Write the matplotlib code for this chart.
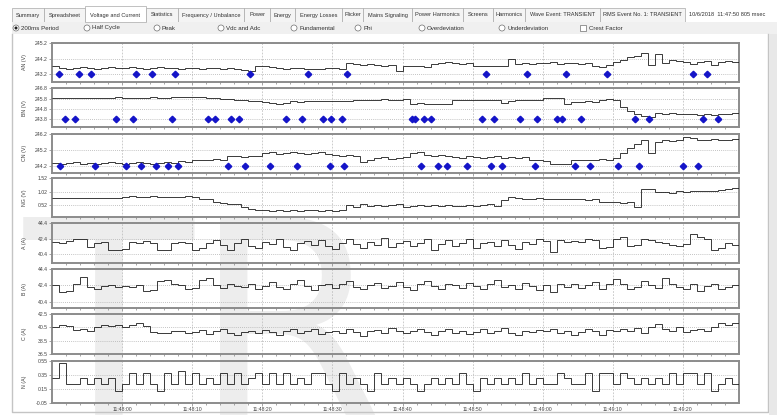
import matplotlib
matplotlib.use("Agg")
import matplotlib.pyplot as plt
import matplotlib.patches as patches
import numpy as np

W, H = 777, 415

# ---- UI texts ----
tabs = ["Summary", "Spreadsheet", "Voltage and Current", "Statistics",
        "Frequency / Unbalance", "Power", "Energy", "Energy Losses", "Flicker",
        "Mains Signaling", "Power Harmonics", "Screens", "Harmonics",
        "Wave Event: TRANSIENT", "RMS Event No. 1: TRANSIENT"]
tab_edges = [12, 44, 85, 146, 178, 244, 270, 295, 342, 363, 412, 463, 493, 525, 600, 685]
event_stamp = "10/6/2018  11:47:50 805 msec"
radio_names = ["200ms Period", "Half Cycle", "Peak", "Vdc and Adc", "Fundamental",
               "Phi", "Overdeviation", "Underdeviation"]
radio_x = [16, 87, 157, 221, 294, 358, 422, 502]
check_name = "Crest Factor"

time_ticks = [10, 20, 30, 40, 50, 60, 70, 80, 90]
time_labels = ["11:48:00", "11:48:10", "11:48:20", "11:48:30", "11:48:40",
               "11:48:50", "11:49:00", "11:49:10", "11:49:20"]

# ---- data: one value per second, starting 11:47:50 ----
an_v = [243.75, 243.6, 243.55, 243.6, 243.65, 243.6, 243.55, 243.6, 243.65, 243.6,
        243.6, 243.65, 243.6, 243.55, 243.6, 243.65, 243.6, 243.6, 243.55, 243.6,
        243.6, 243.55, 243.6, 243.6, 243.55, 243.6, 243.5, 243.45, 243.4, 243.7,
        243.7, 243.65, 243.6, 243.55, 243.6, 243.6, 243.5, 243.55, 243.5, 243.6,
        243.6, 243.55, 243.9, 243.85, 243.8, 243.85, 243.8, 243.75, 243.8, 243.4,
        243.7, 243.75, 243.7, 243.65, 243.85, 243.9, 243.95, 243.9, 243.85, 243.9,
        243.75, 243.7, 243.7, 243.75, 243.7, 244.2, 243.85, 243.9, 243.85, 243.9,
        243.9, 243.95, 243.85, 243.9, 243.9, 243.85, 243.9, 243.75, 243.65, 243.8,
        243.95, 244.1, 244.3, 244.35, 244.6, 243.8, 244.5, 243.9, 244.1, 244.05,
        244.0, 243.85, 244.0, 244.05, 243.8, 244.0, 244.05, 243.95]
bn_v = [245.85, 245.9, 245.85, 245.85, 245.9, 245.85, 245.9, 245.85, 245.9, 245.95,
        245.9, 245.85, 245.9, 245.9, 245.95, 245.9, 245.9, 245.95, 245.95, 246.0,
        246.0, 245.95, 245.9, 245.85, 245.8, 245.75, 245.7, 245.65, 245.6, 245.6,
        245.5, 245.4, 245.3, 245.35,
        245.55, 245.5, 245.55, 245.6, 245.55, 245.6, 245.55, 245.6, 245.55,
        245.7, 245.7, 245.65, 245.7, 245.75, 245.7, 245.7, 245.75,
        245.25, 245.35, 245.3, 245.3, 245.25, 245.3,
        245.65, 245.7, 245.65, 245.7, 245.65, 245.7, 245.65, 245.4, 245.6, 245.65,
        245.7, 245.65, 245.7,
        245.9, 245.85, 245.9, 245.25, 245.5, 245.5, 245.55, 245.5, 245.7, 245.75, 245.7,
        245.0, 244.6, 244.3, 244.1, 244.0,
        244.4, 244.35, 244.4, 244.3, 244.35, 244.3, 244.25, 244.3, 244.2, 244.3,
        244.35, 244.4]
cn_v = [244.4, 244.35, 244.4, 244.45, 244.35, 244.4, 244.35, 244.4, 244.45, 244.4,
        244.35, 244.4, 244.45, 244.4, 244.35, 244.4, 244.45, 244.4, 244.5, 244.45,
        244.6, 244.55, 244.6, 244.65, 244.6, 244.8, 244.85, 244.75, 244.85, 244.8,
        245.0, 245.05, 244.95, 245.0, 245.05, 245.0, 244.95, 245.0, 245.05, 244.95,
        244.9, 244.85, 244.9, 244.8, 244.45, 244.6, 244.7, 244.75, 244.65, 244.7,
        244.75, 245.0, 245.05, 244.9, 244.85, 244.9, 244.85,
        244.75, 244.7, 244.8, 244.75, 244.7, 244.75, 244.8, 244.7, 244.75, 244.7, 244.75,
        244.55, 244.6, 244.5, 244.35, 244.3, 244.35,
        244.55, 244.6, 244.55, 244.6, 244.65, 244.6, 244.7,
        245.0, 245.3, 245.6, 245.8, 245.0, 245.7, 245.8, 245.75, 245.8,
        246.0, 245.95, 245.85, 245.8, 245.9, 245.85, 245.8, 245.9]
ng_v = [0.78, 0.78, 0.77, 0.78, 0.78, 0.78, 0.77, 0.78, 0.78, 0.78,
        0.84, 0.86, 0.83, 0.84, 0.85, 0.84, 0.83, 0.84, 0.84, 0.85, 0.84,
        0.76, 0.76, 0.62, 0.6, 0.58, 0.56, 0.45, 0.38,
        0.33, 0.34, 0.32, 0.33, 0.31, 0.33, 0.32, 0.33, 0.34, 0.32, 0.33, 0.32, 0.34,
        0.52, 0.46, 0.55, 0.48, 0.53, 0.47, 0.51, 0.55, 0.46, 0.5, 0.53, 0.48,
        0.52, 0.47, 0.54, 0.49, 0.5, 0.53, 0.47, 0.51, 0.55, 0.49,
        0.7, 0.84,
        0.78, 0.76, 0.75, 0.77, 0.75, 0.74, 0.76, 0.75, 0.74, 0.75, 0.73, 0.74,
        0.64, 0.62, 0.63, 0.61, 0.62, 0.45, 1.14, 1.12,
        1.0, 1.02, 0.98, 1.03, 1.0, 1.05, 1.04, 1.06, 1.05, 1.1, 1.12, 1.15]
a_a = [42.0, 41.8, 42.1, 42.3, 42.4, 41.3, 41.9, 42.0, 40.9, 41.0,
       41.1, 42.0, 41.8, 42.1, 41.9, 41.0, 40.9, 41.9, 42.0, 41.8,
       40.9, 41.2, 41.8, 42.2, 41.6, 41.0, 41.9, 42.3, 41.5, 41.2,
       42.0, 41.7, 42.4, 41.3, 41.0, 41.9, 42.1, 41.6, 42.2, 41.4,
       41.1, 41.9, 42.3, 41.7, 41.2, 42.0, 41.6, 42.5, 41.3, 41.8,
       42.1, 41.4, 41.9, 42.3, 41.0, 41.7, 42.2, 41.5, 41.9, 42.4,
       41.2, 41.8, 42.0, 41.4, 42.2, 41.6, 41.1, 42.0, 41.7, 42.3,
       42.1, 40.7, 42.2, 42.0, 42.1, 42.0, 42.3, 42.2, 41.2, 41.3,
       42.3, 42.6, 41.5, 41.6, 42.3, 42.2, 42.0, 41.9, 41.6, 41.5,
       41.7, 43.0, 42.6, 42.3, 41.0, 41.2, 41.9, 41.6]
b_a = [42.4, 41.6, 41.7, 42.5, 43.4, 42.2, 42.0, 42.3, 42.4, 42.2,
       42.3, 42.2, 42.4, 41.7, 41.8, 42.9, 43.1, 42.5, 42.4, 42.0,
       42.1, 43.1, 43.3, 42.4, 42.1, 42.5, 42.3, 42.2, 42.6, 41.9,
       42.3, 42.8, 42.2, 42.0, 42.6, 43.0, 42.3, 41.8, 42.4, 42.6,
       42.1, 42.5, 42.9, 42.2, 41.9, 42.4, 42.7, 42.1, 42.3, 42.8,
       42.2, 41.8, 42.5, 42.9, 42.3, 42.0, 42.6, 42.4, 42.1, 42.7,
       42.3, 41.9, 42.6, 43.0, 42.2, 42.4, 42.0, 42.7, 42.3, 41.8,
       42.4, 41.6, 42.5, 42.2, 42.6, 42.1, 42.4, 42.8, 41.9, 42.5,
       43.2, 42.6, 42.0, 42.2, 42.9, 42.4, 42.1, 43.3, 42.5, 42.2,
       42.0, 42.6, 41.7, 42.3, 42.5, 41.9, 42.2, 42.4]
c_a = [40.6, 40.8, 40.7, 40.1, 40.2, 40.0, 40.6, 40.8, 40.7, 40.9,
       40.6, 40.8, 41.1, 40.7, 39.8, 39.6, 39.7, 39.9, 40.0, 39.7,
       39.8, 40.1, 39.5, 39.9, 40.2, 39.7, 39.3, 39.8, 40.0, 39.6,
       40.1, 39.8, 39.4, 39.9, 40.3, 39.7, 39.9, 40.2, 39.5, 39.8,
       40.0, 39.6, 40.3, 39.8, 39.2, 39.9, 40.1, 39.7, 40.4, 39.9,
       39.6, 40.0, 40.2, 39.8, 39.4, 39.9, 40.3, 39.7, 40.0, 39.5,
       39.8, 40.2, 39.6, 39.9, 40.4, 39.7, 39.3, 40.0, 39.8, 40.1,
       39.9, 40.3, 39.6, 40.0, 39.4, 39.8, 40.2, 40.0, 39.3, 40.1,
       39.9, 40.2, 40.0, 40.4, 39.7, 40.6, 41.0, 40.2, 39.9, 40.5,
       39.8, 40.1, 40.3, 39.9, 40.6, 41.1, 40.8, 41.1]
n_a = [0.30, 0.52, 0.22, 0.22, 0.31, 0.22, 0.31, 0.22, 0.31, 0.12,
       0.22, 0.38, 0.22, 0.38, 0.22, 0.12, 0.38, 0.22, 0.40, 0.22,
       0.38, 0.22, 0.31, 0.22, 0.38, 0.22, 0.38, 0.22, 0.31, 0.38,
       0.22, 0.38, 0.22, 0.38, 0.22, 0.31, 0.22, 0.38, 0.38, 0.22,
       0.12, 0.38, 0.22, 0.31, 0.22, 0.12, 0.38, 0.22, 0.31, 0.22,
       0.31, 0.22, 0.12, 0.22, 0.31, 0.22, 0.31, 0.22, 0.38, 0.22,
       0.12, 0.31, 0.22, 0.31, 0.22, 0.31, 0.22, 0.38, 0.22, 0.31,
       0.22, 0.22, 0.38, 0.31, 0.22, 0.22, 0.38, 0.12, 0.38, 0.38,
       0.22, 0.38, 0.31, 0.22, 0.31, 0.22, 0.31, 0.22, 0.38, 0.22,
       0.38, 0.38, 0.22, 0.38, 0.12, 0.22, 0.31, 0.22]

# event markers (seconds after 11:47:50)
an_events = [1.0, 3.8, 5.6, 12.0, 14.3, 17.5, 28.2, 36.5, 42.1, 61.9, 67.8, 73.3, 79.2, 91.5, 93.5]
bn_events = [1.9, 3.3, 9.2, 11.5, 17.1, 22.2, 23.3, 25.6, 26.7, 33.4, 35.7, 38.7, 39.8, 41.3,
             51.3, 51.8, 53.0, 54.1, 61.3, 63.1, 66.7, 69.2, 72.1, 72.7, 75.5, 83.1, 85.1, 92.9, 95.0]
cn_events = [1.2, 6.2, 10.5, 12.7, 14.8, 16.5, 18.0, 25.1, 27.5, 31.1, 34.9, 39.7, 41.6, 52.6,
             55.1, 56.3, 59.2, 62.6, 64.2, 68.9, 74.6, 76.7, 80.7, 83.7, 90.0, 92.1]

panels = [
    # label, values, events, (top px, bottom px), ylim, yticks, fmt
    ("AN (V)", an_v, an_events, (43.3, 81.7), (242.7, 245.2), [243.2, 244.2, 245.2], "{:.1f}"),
    ("BN (V)", bn_v, bn_events, (88.3, 127.3), (243.02, 246.8), [243.8, 244.8, 245.8, 246.8], "{:.1f}"),
    ("CN (V)", cn_v, cn_events, (134.0, 172.7), (243.78, 246.2), [244.2, 245.2, 246.2], "{:.1f}"),
    ("NG (V)", ng_v, None, (178.3, 216.7), (0.09, 1.52), [0.52, 1.02, 1.52], "{:.2f}"),
    ("A (A)", a_a, None, (223.3, 263.0), (39.25, 44.4), [40.4, 42.4, 44.4], "{:.1f}"),
    ("B (A)", b_a, None, (269.0, 308.0), (39.6, 44.4), [40.4, 42.4, 44.4], "{:.1f}"),
    ("C (A)", c_a, None, (314.0, 354.0), (36.5, 42.5), [36.5, 38.5, 40.5, 42.5], "{:.1f}"),
    ("N (A)", n_a, None, (360.7, 403.0), (-0.05, 0.55), [-0.05, 0.15, 0.35, 0.55], "{:.2f}"),
]

plt.rcParams['font.family'] = ['Liberation Sans', 'DejaVu Sans']

fig = plt.figure(figsize=(W / 100, H / 100), dpi=100)
fig.patch.set_facecolor("white")

# background layer in pixel coordinates
bg = fig.add_axes([0, 0, 1, 1])
bg.set_xlim(0, W)
bg.set_ylim(H, 0)
bg.axis("off")

# watermark
bg.text(24, 420, "TR", fontsize=200, color="#ededed", ha="left", va="baseline",
        family="DejaVu Sans", zorder=0, clip_on=True)

# tabs
for i, name in enumerate(tabs):
    x0, x1 = tab_edges[i], tab_edges[i + 1]
    sel = (i == 2)
    top = 6.5 if sel else 8.5
    bg.add_patch(patches.Rectangle((x0, top), x1 - x0, 22 - top,
                                   facecolor="white" if sel else "#f4f4f4",
                                   edgecolor="#a8a8a8", lw=0.5, zorder=2 if sel else 1))
    bg.text((x0 + x1) / 2, 15, name, fontsize=4.1, color="#303030",
            ha="center", va="center", zorder=3)
bg.text(689, 15, event_stamp, fontsize=4.1, color="#303030", ha="left", va="center")

# radio row
bg.add_patch(patches.Rectangle((12, 22), W - 12, 12, facecolor="#f0f0f0",
                               edgecolor="none", zorder=1))
for i, (name, x) in enumerate(zip(radio_names, radio_x)):
    bg.add_patch(patches.Circle((x, 28), 3.0, facecolor="white", edgecolor="#6f6f6f",
                                lw=0.5, zorder=2))
    if i == 0:
        bg.add_patch(patches.Circle((x, 28), 1.5, facecolor="#202020", zorder=3))
    bg.text(x + 5, 28, name, fontsize=4.4, color="#303030", ha="left", va="center", zorder=3)
bg.add_patch(patches.Rectangle((580, 24.8), 6.4, 6.4, facecolor="white",
                               edgecolor="#6f6f6f", lw=0.5, zorder=2))
bg.text(589, 28, check_name, fontsize=4.4, color="#303030", ha="left", va="center", zorder=3)

# outer frame of the chart control
bg.plot([12, 12, 768, 768], [34, 412, 412, 34], color="#c4c4c4", lw=1.0, zorder=1)
bg.add_patch(patches.Rectangle((769, 34), 8, H - 34, facecolor="#e8e8e8",
                               edgecolor="none", zorder=1))

x_left, x_right = 52, 739
n = len(an_v)
edges = np.arange(n + 1)

for k, (label, vals, events, (ytop, ybot), ylim, yticks, fmt) in enumerate(panels):
    ax = fig.add_axes([x_left / W, 1 - ybot / H, (x_right - x_left) / W, (ybot - ytop) / H])
    ax.patch.set_alpha(0)
    ax.stairs(vals, edges, baseline=None, color="#1a1a1a", lw=0.6, zorder=3)
    if events is not None:
        ax.plot(events, [yticks[0]] * len(events), "D", ms=3.3, color="#1414c8",
                mec="#1414c8", zorder=4, clip_on=False)
    ax.set_xlim(0, 98)
    ax.set_ylim(*ylim)
    ax.set_yticks(yticks)
    ax.set_yticklabels([fmt.format(v) for v in yticks])
    ax.set_xticks(time_ticks)
    ax.set_xticks(np.arange(2, 98, 2), minor=True)
    if k == len(panels) - 1:
        ax.set_xticklabels(time_labels)
    else:
        ax.set_xticklabels([])
    ax.tick_params(axis="both", which="major", labelsize=3.7, labelcolor="#404040",
                   length=2, width=0.5, color="#808080", pad=1.2)
    ax.tick_params(axis="x", which="minor", length=1.5, width=0.5, color="#808080")
    ax.grid(axis="x", which="major", ls=(0, (2.5, 2)), color="#b8b8b8", lw=0.5)
    ax.grid(axis="y", which="major", ls=(0, (1, 1.5)), color="#b0b0b0", lw=0.6)
    for sp in ax.spines.values():
        sp.set_color("#8c8c8c")
        sp.set_linewidth(1.4)
    ax.set_ylabel(label, fontsize=3.8, color="#404040")
    ax.yaxis.set_label_coords((27 - x_left) / (x_right - x_left), 0.5)

fig.savefig("out.png", dpi=100, facecolor="white")
